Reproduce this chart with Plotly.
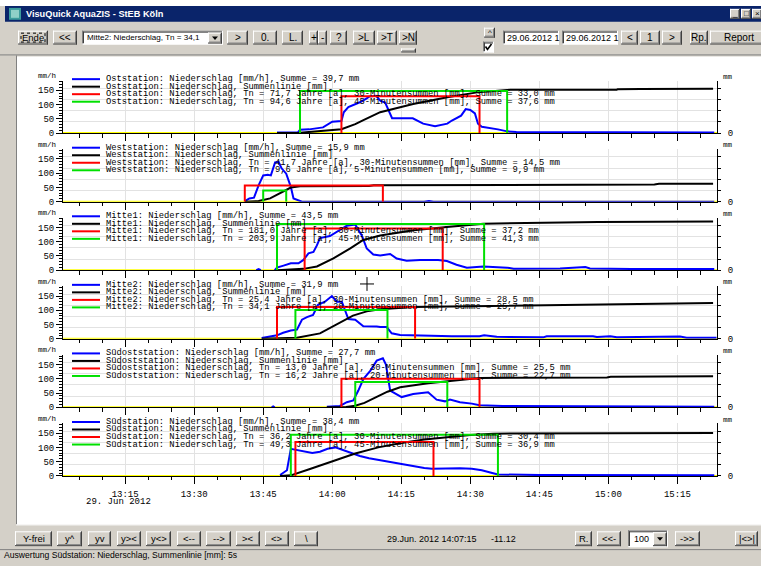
import pandas as pd
import plotly.graph_objects as go

W, H = 761, 566
DAY = "2012-06-29 "
X_RANGE = ["13:01:30", "15:23:36"]

# ---------------- data ----------------
STATIONS = ["Oststation", "Weststation", "Mitte1", "Mitte2", "Südoststation", "Südstation"]
RAIN_TOTAL = [39.7, 15.9, 43.5, 31.9, 27.7, 38.4]
TN_A = ["71,7", "41,7", "181,0", "25,4", "13,0", "36,2"]
DUR_A = [30, 30, 30, 30, 30, 30]
SUM_A = [33.0, 14.5, 37.2, 28.5, 25.5, 30.4]
START_A = ["14:02", "13:41", "13:54", "13:48", "14:02", "13:52"]
TN_B = ["94,6", "9,6", "203,9", "34,1", "16,2", "49,3"]
DUR_B = [45, 5, 45, 20, 20, 45]
SUM_B = [37.6, 9.9, 41.3, 25.7, 22.7, 36.9]
START_B = ["13:53", "13:45", "13:48", "13:52", "14:05", "13:51"]

OST_T = ["13:48", "13:52:30", "13:53", "13:55", "13:58", "14:00", "14:02", "14:02:30", "14:03:30", "14:05",
         "14:06", "14:07:30", "14:08", "14:09:30", "14:10:30", "14:11:30", "14:13", "14:14:30", "14:17:30",
         "14:19:45", "14:22:20", "14:25", "14:26", "14:28", "14:29", "14:30", "14:31", "14:31:40", "14:32:30",
         "14:36", "14:38", "14:40", "14:50", "14:56", "15:05", "15:10", "15:15", "15:23"]
OST_MMH = [2, 2, 12, 13, 20, 40, 42, 73, 91, 100,
           108, 122, 128, 131, 113, 107, 52, 52, 52,
           33, 24, 33, 44, 61, 84, 81, 69, 33, 22,
           13, 6, 4, 3, 4, 3, 2, 3, 2]
OST_SUM_T = ["13:48", "13:53", "14:02", "14:05", "14:07", "14:09:30", "14:10:25", "14:17:35", "14:25",
             "14:31:30", "14:38:40", "15:01:50", "15:02", "15:07", "15:22:45"]
OST_SUM = [0, 0.3, 3.4, 8, 12, 17, 18.7, 26, 32, 36.4, 38.7, 38.8, 39.2, 39.5, 39.7]

WEST_T = ["13:41", "13:42", "13:43", "13:44", "13:45", "13:46", "13:46:40", "13:47:35", "13:48:20", "13:49",
          "13:50", "13:51", "13:51:35", "13:52:40", "13:53:25", "14:20", "14:21", "14:22", "14:24", "14:25",
          "14:26", "14:27", "14:50", "14:51", "14:52", "15:23"]
WEST_MMH = [2, 11, 14, 57, 92, 94, 92, 138, 140, 117,
            98, 52, 11, 6, 0, 0, 2, 0, 0, 2,
            2, 0, 0, 2, 0, 0]
WEST_SUM_T = ["13:41", "13:44", "13:46:30", "13:48:40", "13:51", "13:53", "14:08", "14:09", "14:30", "14:31",
              "15:10", "15:11", "15:22:45"]
WEST_SUM = [0, 0.5, 2.9, 7.3, 12.6, 13.8, 13.9, 14.6, 14.7, 15.3, 15.4, 15.9, 15.9]

MITTE1_T = ["13:43:30", "13:44", "13:44:30", "13:45", "13:47:30", "13:48", "13:49:25", "13:51", "13:52:40",
            "13:53:45", "13:54:50", "13:55:55", "13:56:40", "13:57:20", "13:59:30", "14:01", "14:03:10", "14:05",
            "14:06:25", "14:07:30", "14:08:55", "14:10:25", "14:12:35", "14:14", "14:16:10", "14:19:05", "14:23",
            "14:24:55", "14:27", "14:29:15", "14:32:50", "14:38", "14:39:25", "14:49:30", "14:55", "14:56",
            "15:05", "15:23"]
MITTE1_MMH = [0, 4, 0, None, 0, 9, 16, 24, 24,
              36, 59, 64, 87, 113, 120, 136, 156, 160,
              122, 76, 55, 52, 57, 41, 33, 36, 36,
              32, 19, 9, 13, 9, 5, 6, 11, 6,
              4, 4]
MITTE1_SUM_T = ["13:48", "13:53:45", "13:56:40", "14:00:15", "14:03:55", "14:06:45", "14:10:25", "14:17:40",
                "14:24:55", "14:32:50", "14:57:45", "15:22:45"]
MITTE1_SUM = [0, 1.2, 3.3, 10.6, 19.5, 27, 31, 35.7, 38.7, 41.6, 43.1, 43.5]

MITTE2_T = ["13:44:40", "13:48", "13:49:20", "13:51", "13:52:20", "13:53:25", "13:54:30", "13:55:50", "13:56:55",
            "13:58:25", "13:59:55", "14:01", "14:02:05", "14:03:30", "14:05", "14:06:45", "14:09:40", "14:10:25",
            "14:11:50", "14:12:55", "14:14:45", "14:17:35", "14:18:40", "14:26", "14:32", "14:33", "14:35:45",
            "14:39:15", "14:45:50", "14:46:35", "14:56:40", "14:57:30", "15:00:25", "15:01:50", "15:15:35",
            "15:17", "15:23:30"]
MITTE2_MMH = [3, 12, 21, 29, 32, 67, 76, 84, 119,
              130, 150, 130, 130, 69, 67, 44, 43, 41,
              41, 19, 13, 12, 10, 9, 9, 12, 7,
              6, 5, 9, 9, 6, 9, 5, 8,
              4, 4]
MITTE2_SUM_T = ["13:44:40", "13:52:20", "13:57:20", "14:00:10", "14:04:30", "14:07:30", "14:10:25", "14:17:35",
                "14:51", "15:01:50", "15:22:45"]
MITTE2_SUM = [0, 1, 4.8, 11, 20.7, 24.5, 26.3, 28.5, 30.0, 31.0, 31.9]

SUEDOST_T = ["13:46:50", "13:47:10", "13:47:30", "13:48", "13:58:50", "14:00:10", "14:01:40", "14:03:10",
             "14:04:35", "14:05:40", "14:06:45", "14:08:15", "14:09:40", "14:11", "14:11:40", "14:12:35",
             "14:15:05", "14:17:35", "14:20:50", "14:22:40", "14:24:30", "14:25:35", "14:27:45", "14:30:20",
             "14:32", "14:37", "14:50", "15:00", "15:10", "15:23"]
SUEDOST_MMH = [0, 3, 0, None, 2, 4, 5, 18,
               24, 59, 99, 128, 164, 172, 150, 59,
               36, 47, 53, 27, 21, 27, 18, 13,
               7, 4.6, 3, 2, 3, 2]
SUEDOST_SUM_T = ["13:58:50", "14:03", "14:05", "14:07", "14:09", "14:10:25", "14:12", "14:14:45", "14:20:50",
                 "14:27:45", "14:32", "14:59:40", "15:00:30", "15:22:45"]
SUEDOST_SUM = [0, 0.3, 1.5, 4, 8, 11, 14, 18, 21.5, 24.5, 26.3, 26.8, 27.3, 27.7]

SUED_T = ["13:48:40", "13:50:10", "13:51", "13:52:30", "13:54", "13:55:40", "13:57:20", "13:59", "14:00:40",
          "14:02", "14:04", "14:06", "14:08", "14:10:25", "14:13", "14:15", "14:17", "14:20", "14:21:40",
          "14:24:30", "14:27:45", "14:30:20", "14:32:30", "14:34:20", "14:36", "14:45", "15:00", "15:10", "15:23"]
SUED_MMH = [3, 20, 95, 90, 85, 80, 85, 95, 100,
            92, 80, 70, 62, 55, 48, 42, 35, 28, 25,
            27, 27, 25, 20, 12, 5, 3, 2, 3, 2]
SUED_SUM_T = ["13:48:40", "13:51", "13:55", "14:00", "14:05", "14:10", "14:15", "14:20", "14:25", "14:30",
              "14:35", "14:45", "15:00", "15:10", "15:22:45"]
SUED_SUM = [0, 0.5, 6, 13, 20, 25.5, 29.5, 32.5, 34.5, 36.5, 37.8, 38, 38.1, 38.3, 38.4]

RAIN_T = [OST_T, WEST_T, MITTE1_T, MITTE2_T, SUEDOST_T, SUED_T]
RAIN_V = [OST_MMH, WEST_MMH, MITTE1_MMH, MITTE2_MMH, SUEDOST_MMH, SUED_MMH]
CUM_T = [OST_SUM_T, WEST_SUM_T, MITTE1_SUM_T, MITTE2_SUM_T, SUEDOST_SUM_T, SUED_SUM_T]
CUM_V = [OST_SUM, WEST_SUM, MITTE1_SUM, MITTE2_SUM, SUEDOST_SUM, SUED_SUM]

# ---------------- styling / geometry ----------------
MONO = "Liberation Mono"
SANS = "Liberation Sans"
FACE = "#D4D0C8"
BLUE, BLACK, RED, GREEN, YELLOW = "#0000FF", "#000000", "#FF0000", "#00E000", "#FFFF00"
GRID = "#E2E2E2"
ZERO_Y = [134.5, 203.8, 273.1, 342.4, 411.7, 481.0]
PLOT_H = 53
PX_PER_MMH = 0.288
PX_PER_MM = 1.13
AX_X0, AX_X1 = 63, 717
LEG_SIZE = 8.8
LEG_STEP = 7.6


def tt(s):
    return DAY + (s if s.count(":") == 2 else s + ":00")


def X(x):
    return x / W


def Y(y):
    return 1 - y / H


def fmt(v):
    return f"{v:.1f}".replace(".", ",")


def esc(s):
    return s.replace("&", "&amp;").replace("<", "&lt;").replace(">", "&gt;")


shapes, annots = [], []


def rect(x0, y0, x1, y1, fill, line=None, lw=1, layer="below", dash=None):
    ln = dict(width=lw if line else 0, color=line or "rgba(0,0,0,0)")
    if dash:
        ln["dash"] = dash
    shapes.append(dict(type="rect", xref="paper", yref="paper", x0=X(x0), y0=Y(y0), x1=X(x1), y1=Y(y1),
                       fillcolor=fill, layer=layer, line=ln))


def seg(x0, y0, x1, y1, color, lw=1, layer="below"):
    shapes.append(dict(type="line", xref="paper", yref="paper", x0=X(x0), y0=Y(y0), x1=X(x1), y1=Y(y1),
                       line=dict(color=color, width=lw), layer=layer))


def label(x, y, s, size=10, color="black", family=SANS, anchor="left"):
    annots.append(dict(xref="paper", yref="paper", x=X(x), y=Y(y), text=s, showarrow=False,
                       xanchor=anchor, yanchor="middle", borderpad=0,
                       font=dict(size=size, color=color, family=family)))


def button(x0, y0, x1, y1, s, size=10):
    rect(x0, y0, x1, y1, FACE)
    seg(x0, y0 + 0.5, x1, y0 + 0.5, "white")
    seg(x0 + 0.5, y0, x0 + 0.5, y1, "white")
    seg(x0, y1 - 0.5, x1, y1 - 0.5, "#404040")
    seg(x1 - 0.5, y0, x1 - 0.5, y1, "#404040")
    seg(x0 + 1, y1 - 1.5, x1 - 1, y1 - 1.5, "#808080")
    seg(x1 - 1.5, y0 + 1, x1 - 1.5, y1 - 1, "#808080")
    if s:
        label((x0 + x1) / 2, (y0 + y1) / 2, esc(s), size, anchor="center")


def field(x0, y0, x1, y1, fill="white"):
    rect(x0, y0, x1, y1, fill)
    seg(x0, y0 + 0.5, x1, y0 + 0.5, "#808080")
    seg(x0 + 0.5, y0, x0 + 0.5, y1, "#808080")
    seg(x0 + 1, y0 + 1.5, x1 - 1, y0 + 1.5, "#404040")
    seg(x0 + 1.5, y0 + 1, x0 + 1.5, y1 - 1, "#404040")
    seg(x0, y1 - 0.5, x1, y1 - 0.5, "white")
    seg(x1 - 0.5, y0, x1 - 0.5, y1, "white")


# ---------------- window chrome ----------------
rect(0, 0, 761, 6, "white")
rect(5, 6, 761, 22, "#0A246A")
rect(9, 8, 21, 20, "#3C9C9C")
rect(11, 10, 19, 18, "#8FD0C8")
label(25, 14.5, "<b>VisuQuick AquaZIS - StEB Köln</b>", 9.2, "white")
button(730, 9, 740, 19, "_", 8)
button(741, 9, 751, 19, "□", 8)
button(752, 9, 762, 19, "×", 8)

# top toolbar
button(18, 31, 48, 45, "Ende", 9.5)
rect(21, 33.5, 45, 42.5, "rgba(0,0,0,0)", "#000000", 1, dash="dot")
button(53, 31, 77, 45, "<<")
field(82, 31, 223, 45)
label(86, 38, "Mitte2: Niederschlag, Tn = 34,1", 8.1)
button(208, 33, 222, 44, "")
shapes.append(dict(type="path", xref="paper", yref="paper", layer="below", fillcolor="black",
                   line=dict(width=0),
                   path=f"M {X(212)},{Y(37)} L {X(218)},{Y(37)} L {X(215)},{Y(40.5)} Z"))
button(227, 31, 248, 45, ">")
button(253, 31, 277, 45, "0.")
button(282, 31, 303, 45, "L.")
button(309, 31, 318, 45, "+")
button(318, 31, 327, 45, "-")
button(330, 31, 347, 45, "?")
button(353, 31, 375, 45, ">L")
button(377, 31, 397, 45, ">T")
button(399, 31, 417, 45, ">N")
button(401, 49, 416, 53, "")
button(484, 28, 495, 38, "^", 8)
field(483, 42, 494, 53)
shapes.append(dict(type="path", xref="paper", yref="paper", layer="below", line=dict(color="black", width=1.6),
                   path=f"M {X(485.5)},{Y(47)} L {X(487.5)},{Y(50)} L {X(491.5)},{Y(44.5)}"))
field(503, 31, 559, 45)
label(506, 38, "29.06.2012 1", 9)
field(562, 31, 618, 45)
label(565, 38, "29.06.2012 1", 9)
button(621, 31, 638, 45, "<")
button(640, 31, 660, 45, "1")
button(662, 31, 682, 45, ">")
button(690, 31, 708, 45, "Rp.")
button(710, 31, 768, 45, "Report")

# chart frame
seg(0, 55.5, 761, 55.5, "#808080")
rect(17, 57, 761, 530, "white")
seg(16.5, 56, 16.5, 530, "#808080")
seg(16, 530.5, 761, 530.5, "#FFFFFF")

# bottom toolbar
for (a, b, s) in [(15, 52, "Y-frei"), (57, 82, "y^"), (88, 111, "yv"), (117, 141, "y><"), (146, 171, "y<>"),
                  (177, 201, "<--"), (206, 231, "-->"), (236, 260, "><"), (265, 289, "<>"), (294, 318, "\\")]:
    button(a, 537, b, 552, s, 9.5)
label(386, 544.5, "29.Jun. 2012 14:07:15", 9)
label(490, 544.5, "-11.12", 9)
button(575, 537, 592, 552, "R.", 9.5)
button(597, 537, 621, 552, "<<-", 9.5)
field(628, 536, 668, 553)
label(633, 544.5, "100", 9)
button(653, 538, 667, 552, "")
shapes.append(dict(type="path", xref="paper", yref="paper", layer="below", fillcolor="black",
                   line=dict(width=0),
                   path=f"M {X(657)},{Y(543)} L {X(663)},{Y(543)} L {X(660)},{Y(546.5)} Z"))
button(675, 537, 700, 552, "->>", 9.5)
button(735, 537, 758, 552, "|<>|", 9.5)

# status bar
seg(0, 555.5, 761, 555.5, "#808080")
label(3, 561, "Auswertung Südstation: Niederschlag, Summenlinie [mm]: 5s", 8.6)

# mouse cursor crosshair
seg(360, 287, 374, 287, "black", 1, "above")
seg(367, 280, 367, 294, "black", 1, "above")

# ---------------- panels ----------------
fig = go.Figure()
layout_axes = {}

for i in range(6):
    z = ZERO_Y[i]
    n = i + 1
    xa = "x" if i == 0 else f"x{n}"
    yl = "y" if i == 0 else f"y{2 * i + 1}"
    yr = f"y{2 * i + 2}"
    xkey = "xaxis" if i == 0 else f"xaxis{n}"
    ylkey = "yaxis" if i == 0 else f"yaxis{2 * i + 1}"
    yrkey = f"yaxis{2 * i + 2}"

    common = dict(mode="lines", hoverinfo="skip", showlegend=False, xaxis=xa)
    fig.add_trace(go.Scatter(x=[tt(X_RANGE[0]), tt(X_RANGE[1])], y=[0, 0], yaxis=yl,
                             line=dict(color=YELLOW, width=2), **common))
    fig.add_trace(go.Scatter(x=[tt(t) for t in RAIN_T[i]], y=RAIN_V[i], yaxis=yl,
                             line=dict(color=BLUE, width=2), **common))
    fig.add_trace(go.Scatter(x=[tt(t) for t in CUM_T[i]], y=CUM_V[i], yaxis=yr,
                             line=dict(color=BLACK, width=2), **common))
    for start, dur, h, col in [(START_A[i], DUR_A[i], SUM_A[i], RED), (START_B[i], DUR_B[i], SUM_B[i], GREEN)]:
        s = pd.Timestamp(tt(start))
        e = s + pd.Timedelta(minutes=dur)
        fig.add_trace(go.Scatter(x=[s, s, e, e], y=[0, h, h, 0], yaxis=yr,
                                 line=dict(color=col, width=2), **common))

    dom_y = [Y(z), Y(z - PLOT_H)]
    layout_axes[xkey] = dict(
        domain=[X(AX_X0), X(AX_X1)], anchor=yl, type="date",
        range=[tt(X_RANGE[0]), tt(X_RANGE[1])],
        showline=True, linecolor="black", linewidth=1, zeroline=False,
        ticks="outside", ticklen=7, tickcolor="black", tickwidth=1,
        tick0=DAY + "13:00:00", dtick=900000, tickformat="%H:%M",
        showgrid=True, gridcolor=GRID, gridwidth=1,
        showticklabels=(i == 5), ticklabelstandoff=2,
        tickfont=dict(family=MONO, size=9, color="black"),
        minor=dict(ticks="outside", ticklen=3.5, tickcolor="black", dtick=300000, showgrid=False),
        fixedrange=True,
    )
    layout_axes[ylkey] = dict(
        domain=dom_y, anchor=xa, range=[0, PLOT_H / PX_PER_MMH],
        showline=True, linecolor="black", linewidth=1, zeroline=False, showgrid=False,
        ticks="outside", ticklen=6, tickcolor="black", tickmode="linear", tick0=0, dtick=50,
        tickfont=dict(family=MONO, size=9, color="black"),
        minor=dict(ticks="outside", ticklen=3, tickcolor="black", tickmode="linear", tick0=0, dtick=10),
        fixedrange=True,
    )
    layout_axes[yrkey] = dict(
        overlaying=yl, side="right", anchor=xa, range=[0, PLOT_H / PX_PER_MM],
        showline=True, linecolor="black", linewidth=1, zeroline=False,
        showgrid=True, gridcolor=GRID, gridwidth=1,
        ticks="outside", ticklen=3, tickcolor="black",
        tickmode="array", tickvals=[0, 10, 20, 30, 40], ticktext=["0", "", "", "", ""],
        ticklabelstandoff=5,
        tickfont=dict(family=MONO, size=9, color="black"),
        fixedrange=True,
    )

    # unit labels
    label(47, z - 57.5, "mm/h", 7.5, family=MONO, anchor="center")
    label(728, z - 57, "mm", 7.5, family=MONO, anchor="center")

    # legend
    st = STATIONS[i]
    lines = [
        (BLUE, f"{st}: Niederschlag [mm/h], Summe = {fmt(RAIN_TOTAL[i])} mm"),
        (BLACK, f"{st}: Niederschlag, Summenlinie [mm]"),
        (RED, f"{st}: Niederschlag, Tn = {TN_A[i]} Jahre [a], {DUR_A[i]}-Minutensummen [mm], "
              f"Summe = {fmt(SUM_A[i])} mm"),
        (GREEN, f"{st}: Niederschlag, Tn = {TN_B[i]} Jahre [a], {DUR_B[i]}-Minutensummen [mm], "
                f"Summe = {fmt(SUM_B[i])} mm"),
    ]
    for k, (col, txt) in enumerate(lines):
        yy = z - 54.5 + k * LEG_STEP
        seg(72, yy, 100, yy, col, 2, "above")
        label(105, yy, txt, LEG_SIZE, family=MONO)

# date under first tick label
annots.append(dict(xref="x6", yref="paper", x=tt("13:15"), y=Y(507.5), text="29. Jun 2012", showarrow=False,
                   xanchor="center", yanchor="middle", xshift=-7,
                   font=dict(family=MONO, size=9, color="black")))

fig.update_layout(
    width=W, height=H, autosize=False,
    margin=dict(l=0, r=0, t=0, b=0, pad=0),
    paper_bgcolor=FACE, plot_bgcolor="white",
    showlegend=False, hovermode=False,
    shapes=shapes, annotations=annots,
    **layout_axes,
)

POST = (
    "var s=document.createElement('style');"
    "s.innerHTML='html,body{margin:0 !important;padding:0 !important;overflow:hidden !important;"
    "width:761px;height:566px;} body>div{height:566px;overflow:hidden;line-height:0;font-size:0;}';"
    "document.head.appendChild(s);"
)

fig.write_html("out.html", config={"displayModeBar": False, "staticPlot": True}, post_script=POST)
